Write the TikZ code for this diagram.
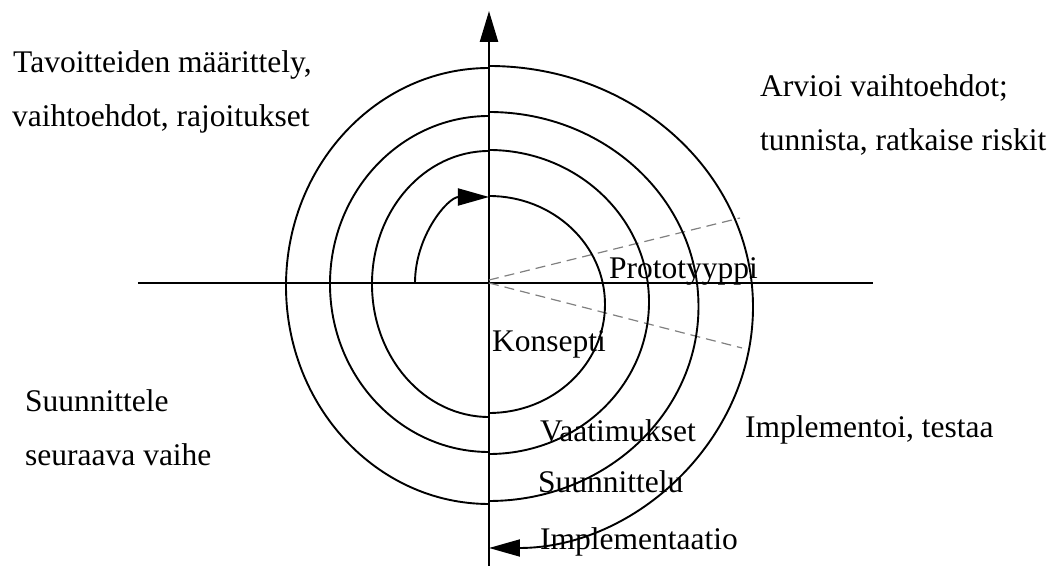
\documentclass[tikz,border=0pt]{standalone}
\usepackage{fontspec}
\setmainfont{Liberation Serif}
\usetikzlibrary{arrows.meta}
\begin{document}
\begin{tikzpicture}[x=1pt, y=1pt,
    axisline/.style={line width=2.4pt, black},
    spiralline/.style={line width=1.9pt, black},
    guideline/.style={line width=1.2pt, gray, dash pattern=on 10pt off 6pt},
    txt/.style={anchor=base west, inner sep=0pt, font=\fontsize{31.5}{38}\selectfont},
    tip/.style={-{Triangle[length=31pt, width=17pt]}}]
    \useasboundingbox (-489,-286) rectangle (569,283);
    \coordinate (O) at (0,0);
    % axes
    \draw[axisline] (-351,0)--(384,0);
    \draw[axisline, -{Triangle[length=31pt, width=18pt]}] (0,-283)--(0,272);
    \draw[guideline] (0,3)--(251,65);
    \draw[guideline] (O)--(253,-65);
    % spiral
    \draw[spiralline, tip] (-74,0) arc[start angle=180, end angle=90, x radius=74, y radius=86];
    \draw[spiralline] (0,87) arc[start angle=90, end angle=-90, x radius=116, y radius=108.5];
    \draw[spiralline] (0,132) arc[start angle=90, end angle=270, x radius=117, y radius=133];
    \draw[spiralline] (0,133) arc[start angle=90, end angle=-90, x radius=160, y radius=152];
    \draw[spiralline] (0,167) arc[start angle=90, end angle=270, x radius=159, y radius=168];
    \draw[spiralline] (0,171) arc[start angle=90, end angle=-90, x radius=209.5, y radius=194.5];
    \draw[spiralline] (0,215) arc[start angle=90, end angle=270, x radius=203, y radius=218];
    \draw[spiralline, tip] (0,217) arc[start angle=90, end angle=-90, x radius=264, y radius=241];
    % labels
    \node[txt] (tav1) at (-476,210) {Tavoitteiden määrittely,};
    \node[txt] (tav2) at (-477,156) {vaihtoehdot, rajoitukset};
    \node[txt] (arv1) at (271,186) {Arvioi vaihtoehdot;};
    \node[txt] (arv2) at (271,132) {tunnista, ratkaise riskit};
    \node[txt] (suu1) at (-464,-129) {Suunnittele};
    \node[txt] (suu2) at (-464,-183) {seuraava vaihe};
    \node[txt] (impl) at (256,-155) {Implementoi, testaa};
    \node[txt] (proto) at (120,4) {Prototyyppi};
    \node[txt] (konsepti) at (3,-69) {Konsepti};
    \node[txt] (vaatim) at (51,-159) {Vaatimukset};
    \node[txt] (suunn) at (49,-210) {Suunnittelu};
    \node[txt] (implem) at (51,-267) {Implementaatio};
\end{tikzpicture}
\end{document}
